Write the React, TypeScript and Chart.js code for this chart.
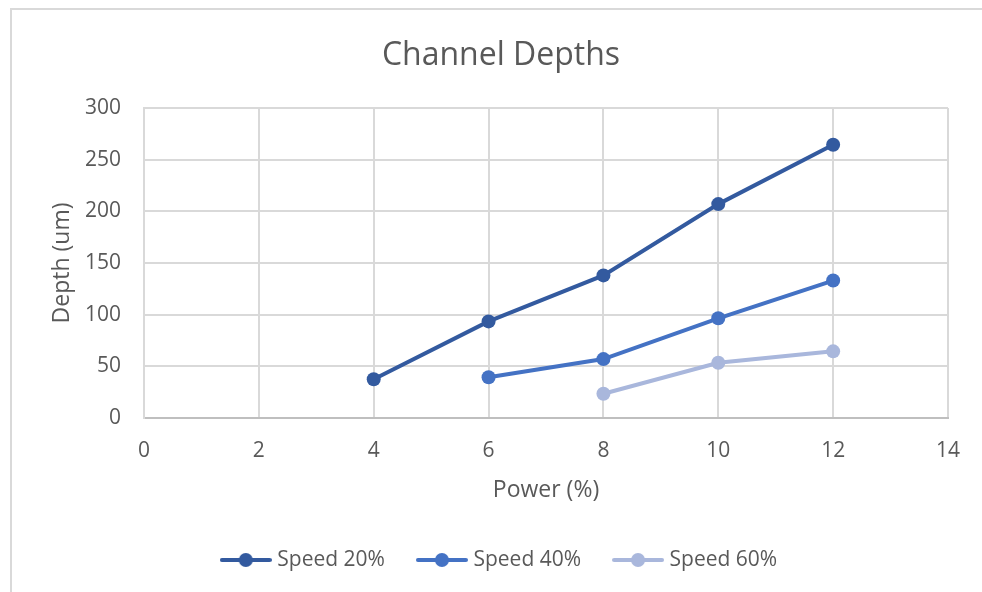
import { useEffect, useRef } from "react";
import { Chart, registerables } from "chart.js";

Chart.register(...registerables);

const TITLE = "Channel Depths";
const X_TITLE = "Power (%)";
const Y_TITLE = "Depth (um)";
const SERIES_NAMES = ["Speed 20%", "Speed 40%", "Speed 60%"];
const SERIES_COLORS = ["#335A9F", "#4472C4", "#A9B7DC"];

const POWER_20 = [4, 6, 8, 10, 12];
const DEPTH_20 = [37.5, 93.5, 138, 207, 264.5];
const POWER_40 = [6, 8, 10, 12];
const DEPTH_40 = [39.5, 57, 96.5, 133];
const POWER_60 = [8, 10, 12];
const DEPTH_60 = [23.5, 53.5, 64.5];

const X_MIN = 0;
const X_MAX = 14;
const X_STEP = 2;
const Y_MIN = 0;
const Y_MAX = 300;
const Y_STEP = 50;

const FONT = "'Open Sans', 'Noto Sans', sans-serif";
const TEXT_COLOR = "#595959";
const GRID_COLOR = "#d9d9d9";

function toPoints(xs: number[], ys: number[]) {
  return xs.map((x, i) => ({ x, y: ys[i] }));
}

function legendIcon(color: string) {
  const c = document.createElement("canvas");
  c.width = 52;
  c.height = 16;
  const ctx = c.getContext("2d")!;
  ctx.strokeStyle = color;
  ctx.lineWidth = 4;
  ctx.lineCap = "round";
  ctx.beginPath();
  ctx.moveTo(2, 8);
  ctx.lineTo(50, 8);
  ctx.stroke();
  ctx.fillStyle = color;
  ctx.beginPath();
  ctx.arc(26, 8, 7, 0, Math.PI * 2);
  ctx.fill();
  return c;
}

export default function App() {
  const ref = useRef<HTMLCanvasElement | null>(null);

  useEffect(() => {
    if (!ref.current) return;
    const seriesData = [
      toPoints(POWER_20, DEPTH_20),
      toPoints(POWER_40, DEPTH_40),
      toPoints(POWER_60, DEPTH_60),
    ];
    const icons = SERIES_COLORS.map(legendIcon);
    const chart = new Chart(ref.current, {
      type: "line",
      data: {
        datasets: SERIES_NAMES.map((name, i) => ({
          label: name,
          data: seriesData[i],
          borderColor: SERIES_COLORS[i],
          backgroundColor: SERIES_COLORS[i],
          borderWidth: 4,
          pointRadius: 7,
          pointHoverRadius: 7,
          pointBorderWidth: 0,
          pointBackgroundColor: SERIES_COLORS[i],
          tension: 0,
          fill: false,
        })),
      },
      options: {
        responsive: false,
        animation: false,
        layout: { padding: { left: 42, right: 34, top: 0, bottom: 11.5 } },
        plugins: {
          tooltip: { enabled: false },
          title: {
            display: true,
            text: TITLE,
            color: TEXT_COLOR,
            font: { family: FONT, size: 32, weight: "normal" },
            padding: { top: 26.8, bottom: 32.8 },
          },
          legend: {
            position: "bottom",
            labels: {
              usePointStyle: true,
              pointStyleWidth: 42,
              padding: 36,
              color: TEXT_COLOR,
              font: { family: FONT, size: 21 },
              generateLabels: (ch: any) =>
                Chart.defaults.plugins.legend.labels
                  .generateLabels(ch)
                  .map((l: any, i: number) => ({ ...l, pointStyle: icons[i] })),
            },
          },
        },
        scales: {
          x: {
            type: "linear",
            min: X_MIN,
            max: X_MAX,
            afterFit: (s: any) => {
              s.height = 95.5;
            },
            ticks: {
              stepSize: X_STEP,
              padding: 20,
              color: TEXT_COLOR,
              font: { family: FONT, size: 21 },
              maxRotation: 0,
            },
            grid: { color: GRID_COLOR, lineWidth: 2, drawTicks: false },
            border: { color: "#bfbfbf", width: 2 },
            title: {
              display: true,
              text: X_TITLE,
              color: TEXT_COLOR,
              font: { family: FONT, size: 23 },
              padding: { top: 0, bottom: 9.7 },
            },
          },
          y: {
            type: "linear",
            min: Y_MIN,
            max: Y_MAX,
            afterFit: (s: any) => {
              s.width = 90;
            },
            ticks: {
              stepSize: Y_STEP,
              padding: 23,
              color: TEXT_COLOR,
              font: { family: FONT, size: 21 },
            },
            grid: { color: GRID_COLOR, lineWidth: 2, drawTicks: false },
            border: { color: GRID_COLOR, width: 2 },
            title: {
              display: true,
              text: Y_TITLE,
              color: TEXT_COLOR,
              font: { family: FONT, size: 23 },
              padding: { top: -5.8, bottom: 0 },
            },
          },
        },
      } as any,
    });
    return () => chart.destroy();
  }, []);

  return (
    <div
      style={{
        position: "fixed",
        left: 0,
        top: 0,
        width: 982,
        height: 592,
        overflow: "hidden",
        background: "#fff",
      }}
    >
      <div
        style={{
          position: "absolute",
          left: 10,
          top: 8,
          width: 1000,
          height: 620,
          border: "2px solid #d9d9d9",
          boxSizing: "border-box",
        }}
      />
      <div style={{ position: "absolute", left: 12, top: 10, width: 970, height: 582 }}>
        <canvas ref={ref} width={970} height={582} style={{ display: "block" }} />
      </div>
    </div>
  );
}
